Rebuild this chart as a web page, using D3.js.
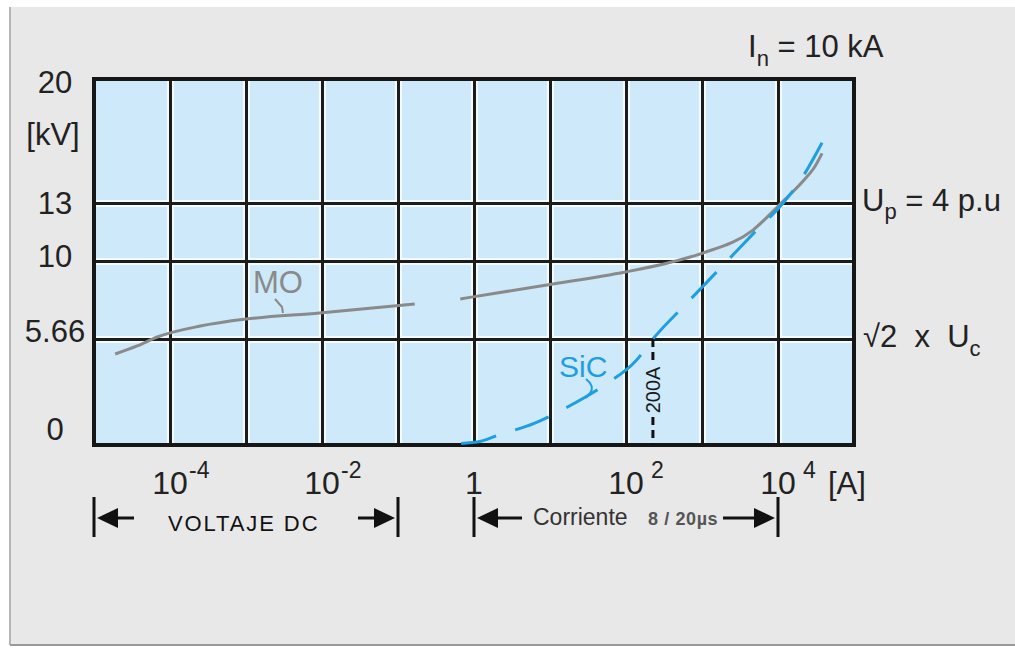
<!DOCTYPE html>
<html>
<head>
<meta charset="UTF-8">
<title>MO vs SiC</title>
<script src="https://cdnjs.cloudflare.com/ajax/libs/d3/7.8.5/d3.min.js"></script>
<style>
body { margin: 0; background: #fff; }
svg { display: block; font-family: "Liberation Sans", Arial, Helvetica, sans-serif; }
.pre { white-space: pre; }
</style>
</head>
<body>
<script>
// current [A] and voltage [kV]
var moLowI   = [1.9e-5, 3.7e-5, 6.8e-5, 2.5e-4, 1.0e-3, 9.3e-3, 0.166];
var moLowKV  = [4.86, 5.29, 5.77, 6.38, 6.77, 7.11, 7.61];
var moHighI  = [0.66, 9.1, 98, 355, 1020, 4680, 10700, 21400, 30900, 38000];
var moHighKV = [7.89, 8.67, 9.39, 9.89, 10.41, 11.6, 12.95, 14.24, 15.09, 15.8];
var sicI  = [0.42, 1.1, 2.1, 6.3, 17, 52, 138, 226, 692, 2140, 5250, 11700, 19500, 38000];
var sicKV = [0.05, 0.16, 0.53, 1.17, 2.03, 3.2, 4.54, 5.66, 7.83, 10.0, 11.6, 13.0, 14.24, 16.4];

var xGrid = [1e-4, 1e-3, 1e-2, 1e-1, 1, 1e1, 1e2, 1e3, 1e4];
var xLabels = [1e-4, 1e-2, 1, 1e2, 1e4];
var yGrid = [5.66, 10, 13];
var yLabels = [0, 5.66, 10, 13, 20];
var dcSpan = [1e-5, 1e-1];
var impulseSpan = [1, 1e4];
var markerI = 226, markerKV = 5.66;

var W = 1015, H = 648;
var svg = d3.select("body").append("svg").attr("width", W).attr("height", H);

var x = d3.scaleLog().domain([1e-5, 1e5]).range([94, 854]);
var y = d3.scaleLinear().domain([0, 5.66, 10, 13, 20]).range([445, 339, 261, 203, 79]);
var yText = d3.scaleLinear().domain([0, 20]).range([440, 93]);

// grey panel
svg.append("rect").attr("x", 10).attr("y", 7).attr("width", W - 10).attr("height", 637).attr("fill", "#e8e8e8");
svg.append("line").attr("x1", 10).attr("x2", 10).attr("y1", 7).attr("y2", 645).attr("stroke", "#b5b5b5").attr("stroke-width", 2);
svg.append("line").attr("x1", 10).attr("x2", W).attr("y1", 645).attr("y2", 645).attr("stroke", "#9a9a9a").attr("stroke-width", 2);

var pw = x(1e5) - x(1e-5), ph = y(0) - y(20);
svg.append("rect").attr("x", x(1e-5)).attr("y", y(20)).attr("width", pw).attr("height", ph).attr("fill", "#cde9fa");

function grid(color, width) {
    var gx = svg.append("g").attr("transform", "translate(0," + y(0) + ")")
        .call(d3.axisBottom(x).tickValues(xGrid).tickSize(-ph).tickFormat(""));
    var gy = svg.append("g").attr("transform", "translate(" + x(1e-5) + ",0)")
        .call(d3.axisLeft(y).tickValues(yGrid).tickSize(-pw).tickFormat(""));
    [gx, gy].forEach(function (g) {
        g.select(".domain").remove();
        g.selectAll("line").attr("stroke", color).attr("stroke-width", width);
    });
}
grid("#f4fbff", 7);
grid("#1c1c1c", 3);

svg.append("rect").attr("x", x(1e-5)).attr("y", y(20)).attr("width", pw).attr("height", ph)
    .attr("fill", "none").attr("stroke", "#161616").attr("stroke-width", 4);

// curves
var line = d3.line().x(function (d) { return x(d[0]); }).y(function (d) { return y(d[1]); }).curve(d3.curveMonotoneX);

svg.append("path").datum(d3.zip(moLowI, moLowKV)).attr("d", line)
    .attr("fill", "none").attr("stroke", "#8a8a8a").attr("stroke-width", 3);
svg.append("path").datum(d3.zip(moHighI, moHighKV)).attr("d", line)
    .attr("fill", "none").attr("stroke", "#8a8a8a").attr("stroke-width", 3);
var sic = svg.append("path").datum(d3.zip(sicI, sicKV)).attr("d", line)
    .attr("fill", "none").attr("stroke", "#1e9fe2").attr("stroke-width", 3).attr("stroke-dasharray", "36,20");
// finish the dashed line on a dash at its upper end
var len = sic.node().getTotalLength();
sic.attr("stroke-dashoffset", ((36 - len % 56) + 56) % 56);

// 200 A marker
var mx = x(markerI);
svg.append("line").attr("x1", mx).attr("x2", mx).attr("y1", y(markerKV)).attr("y2", y(0))
    .attr("stroke", "#111").attr("stroke-width", 3).attr("stroke-dasharray", "8,5");
svg.append("rect").attr("x", mx - 9).attr("y", 364).attr("width", 18).attr("height", 52).attr("fill", "#cde9fa");
svg.append("text").attr("transform", "translate(" + (mx + 7) + ",390) rotate(-90)")
    .attr("text-anchor", "middle").attr("font-size", 20).attr("fill", "#1a1a1a").text("200A");

// series labels
svg.append("text").attr("x", 253).attr("y", 293).attr("font-size", 31).attr("fill", "#8a8a8a").text("MO");
svg.append("path").attr("d", "M275,299 L282,307 L283,313").attr("fill", "none").attr("stroke", "#8a8a8a").attr("stroke-width", 2);
svg.append("text").attr("x", 559).attr("y", 377).attr("font-size", 30).attr("fill", "#1e9fe2").text("SiC");
svg.append("path").attr("d", "M586,379 C591,383 594,388 590,393 L586,398").attr("fill", "none").attr("stroke", "#1e9fe2").attr("stroke-width", 2);

// y labels
svg.selectAll(".ylab").data(yLabels).enter().append("text").attr("class", "ylab")
    .attr("x", 55).attr("y", function (d) { return yText(d); })
    .attr("text-anchor", "middle").attr("font-size", 31).attr("fill", "#222")
    .text(function (d) { return String(d); });
svg.append("text").attr("x", 53).attr("y", 145).attr("text-anchor", "middle").attr("font-size", 31).attr("fill", "#222").text("[kV]");

// right labels
var up = svg.append("text").attr("x", 862).attr("y", y(13) + 8).attr("font-size", 31).attr("fill", "#222");
up.append("tspan").text("U");
up.append("tspan").attr("dy", 8).attr("font-size", 22).text("p");
up.append("tspan").attr("dy", -8).attr("class", "pre").text(" = 4 p.u");
var uc = svg.append("text").attr("x", 863).attr("y", y(5.66) + 8).attr("font-size", 31).attr("fill", "#222").attr("class", "pre");
uc.append("tspan").text("\u221A2  x  U");
uc.append("tspan").attr("dy", 9).attr("font-size", 22).text("c");

var inl = svg.append("text").attr("x", 748).attr("y", 57).attr("font-size", 31).attr("fill", "#222");
inl.append("tspan").text("I");
inl.append("tspan").attr("dy", 9).attr("font-size", 22).text("n");
inl.append("tspan").attr("dy", -9).attr("class", "pre").text(" = 10 kA");

// x labels
var xl = svg.selectAll(".xlab").data(xLabels).enter().append("g").attr("class", "xlab");
xl.append("text").attr("x", function (d) { return x(d); }).attr("y", 494)
    .attr("text-anchor", "middle").attr("font-size", 32).attr("fill", "#222")
    .text(function (d) { return d === 1 ? "1" : "10"; });
xl.filter(function (d) { return d !== 1; }).append("text")
    .attr("x", function (d) { return x(d) + (d < 1 ? 19 : 25); }).attr("y", 478)
    .attr("font-size", 23).attr("fill", "#222")
    .text(function (d) { var e = Math.round(Math.log10(d)); return e < 0 ? "-" + (-e) : String(e); });
svg.append("text").attr("x", 828).attr("y", 494).attr("font-size", 31).attr("fill", "#222").text("[A]");

// span arrows
function span(range, leftShaft, rightShaft) {
    var x0 = x(range[0]), x1 = x(range[1]), ay = 518;
    var g = svg.append("g").attr("stroke", "#111").attr("fill", "#111");
    g.append("line").attr("x1", x0).attr("x2", x0).attr("y1", 497).attr("y2", 537).attr("stroke-width", 3);
    g.append("line").attr("x1", x1).attr("x2", x1).attr("y1", 497).attr("y2", 537).attr("stroke-width", 3);
    g.append("path").attr("stroke", "none").attr("d", "M" + (x0 + 3) + "," + ay + "L" + (x0 + 24) + "," + (ay - 10) + "L" + (x0 + 24) + "," + (ay + 10) + "Z");
    g.append("path").attr("stroke", "none").attr("d", "M" + (x1 - 3) + "," + ay + "L" + (x1 - 24) + "," + (ay - 10) + "L" + (x1 - 24) + "," + (ay + 10) + "Z");
    g.append("line").attr("x1", x0 + 20).attr("x2", x0 + leftShaft).attr("y1", ay).attr("y2", ay).attr("stroke-width", 3);
    g.append("line").attr("x1", x1 - rightShaft).attr("x2", x1 - 20).attr("y1", ay).attr("y2", ay).attr("stroke-width", 3);
}
span(dcSpan, 40, 40);
span(impulseSpan, 48, 55);

svg.append("text").attr("x", 168).attr("y", 531).attr("font-size", 22).attr("letter-spacing", 1.9).attr("fill", "#111").text("VOLTAJE DC");
svg.append("text").attr("x", 533).attr("y", 525).attr("font-size", 23).attr("fill", "#333").text("Corriente");
svg.append("text").attr("x", 648).attr("y", 525).attr("font-size", 18).attr("font-weight", "bold").attr("letter-spacing", 0.6).attr("fill", "#555").text("8 / 20\u00B5s");
</script>
</body>
</html>
